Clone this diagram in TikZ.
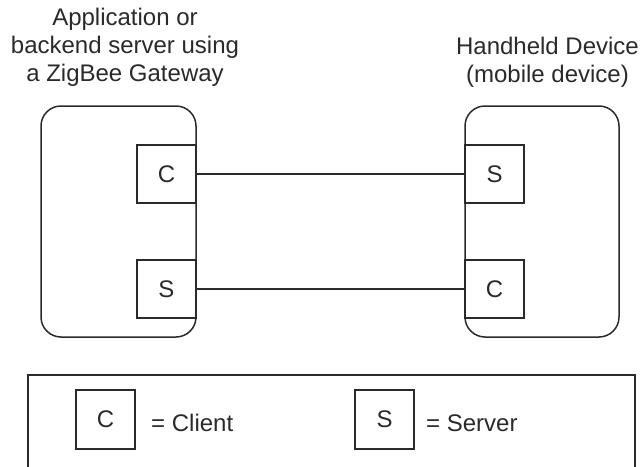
\documentclass[tikz,border=0pt]{standalone}
\usepackage{fontspec}
\setmainfont{Liberation Sans}
\definecolor{ink}{HTML}{2A2A2A}
\begin{document}
\begin{tikzpicture}[x=1pt,y=-1pt,
  every node/.style={text=ink,font=\fontsize{24}{28}\selectfont},
  bigbox/.style={draw=ink,line width=1.5pt,rounded corners=20pt,minimum width=155pt,minimum height=231pt,inner sep=0pt},
  cs/.style={draw=ink,fill=white,line width=1.5pt,minimum width=59pt,minimum height=58pt,inner sep=0pt},
  link/.style={draw=ink,line width=1.5pt}]
\useasboundingbox (0,0) rectangle (642,466);
% titles
\node[align=center] (tl) at (125,47.5) {Application or\\backend server using\\a ZigBee Gateway};
\node[align=center] (tr) at (547.5,62.5) {Handheld Device\\(mobile device)};
% big boxes
\node[bigbox] (L) at (118.5,221.5) {};
\node[bigbox,minimum width=154pt] (R) at (542,221.5) {};
% inner boxes
\node[cs] (lc) at (166.5,174) {C};
\node[cs] (ls) at (166.5,289) {S};
\node[cs] (rs) at (494.5,174) {S};
\node[cs] (rc) at (494.5,289) {C};
% links
\draw[link] (lc.east) -- (rs.west);
\draw[link] (ls.east) -- (rc.west);
% legend
\draw[link] (28,470) |- (635,375) -- (635,470);
\node[cs,minimum height=59pt] (kc) at (105.5,419.5) {C};
\node[anchor=west,inner sep=0pt] (kct) at (151,423) {= Client};
\node[cs,minimum height=59pt] (ks) at (384.5,419.5) {S};
\node[anchor=west,inner sep=0pt] (kst) at (426,423) {= Server};
\end{tikzpicture}
\end{document}
